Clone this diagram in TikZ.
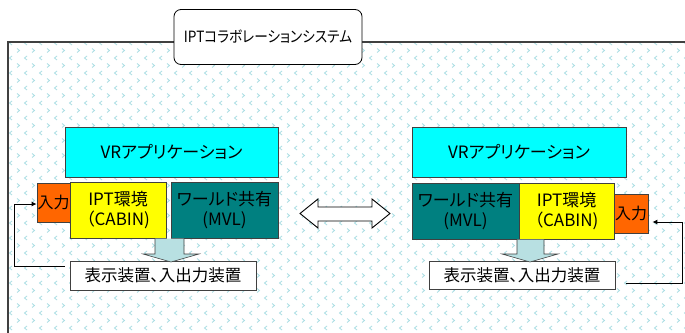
\documentclass[tikz,border=0pt]{standalone}
\usepackage{fontspec}
\newfontfamily\jp[RawFeature=+palt]{Noto Sans CJK JP}
\usetikzlibrary{patterns,arrows.meta}
\pgfdeclarepatternformonly{chev}{\pgfqpoint{-1pt}{-1pt}}{\pgfqpoint{16pt}{16pt}}{\pgfqpoint{15pt}{15pt}}{%
  \pgfsetlinewidth{0.8pt}%
  \pgfpathmoveto{\pgfqpoint{2pt}{13.5pt}}\pgfpathlineto{\pgfqpoint{4.5pt}{11.5pt}}\pgfpathlineto{\pgfqpoint{2pt}{9.5pt}}\pgfusepath{stroke}%
  \pgfpathmoveto{\pgfqpoint{12pt}{6pt}}\pgfpathlineto{\pgfqpoint{9.5pt}{4pt}}\pgfpathlineto{\pgfqpoint{12pt}{2pt}}\pgfusepath{stroke}%
}
\definecolor{patc}{RGB}{170,222,228}
\definecolor{vrc}{RGB}{0,255,255}
\definecolor{ylw}{RGB}{255,255,0}
\definecolor{tealc}{RGB}{0,128,128}
\definecolor{orng}{RGB}{255,102,0}
\definecolor{arrc}{RGB}{184,224,226}
\definecolor{edge}{RGB}{64,64,64}
\tikzset{
  box/.style={draw=edge, line width=0.8pt, inner sep=0pt, font=\jp\fontsize{17}{20}\selectfont, align=center},
  fb/.style={draw=black, line width=0.9pt, -{Latex[length=5pt,width=5pt]}},
}
\begin{document}
\begin{tikzpicture}[x=1pt,y=-1pt]
\useasboundingbox (0,0) rectangle (685,332);
% outer frame
\fill[white] (8,42) rectangle (690,340);
\fill[pattern=chev, pattern color=patc] (8,42) rectangle (690,340);
\draw[edge, line width=1.2pt] (8,340) -- (8,42) -- (690,42);
% title
\node[draw=black, line width=0.8pt, fill=white, rounded corners=7pt, minimum width=188pt, minimum height=55pt, inner sep=0pt, font=\jp\fontsize{15.5}{18}\selectfont] (title) at (268,37) {\scalebox{0.88}[1]{IPTコラボレーションシステム}};

% left group
\node[box, fill=vrc, minimum width=213pt, minimum height=50pt] (vrL) at (171.5,152) {VRアプリケーション};
\node[box, fill=orng, minimum width=33pt, minimum height=39pt, font=\jp\fontsize{16}{18}\selectfont] (inL) at (53.5,202.5) {入力};
\node[box, fill=ylw, minimum width=96pt, minimum height=56pt] (iptL) at (118,210) {IPT環境\\（CABIN)};
\node[box, fill=tealc, minimum width=107pt, minimum height=56pt] (mvlL) at (224.5,210) {ワールド共有\\(MVL)};
\node[box, fill=white, minimum width=186pt, minimum height=29pt, font=\jp\fontsize{16.5}{18}\selectfont] (dispL) at (163,275.5) {表示装置、入出力装置};
\draw[fill=arrc, draw=edge, line width=0.6pt] (155,238.5) -- (155,254) -- (143,254) -- (171,262) -- (199,254) -- (184,254) -- (184,238.5);

% right group
\node[box, fill=vrc, minimum width=214pt, minimum height=50pt] (vrR) at (519,152) {VRアプリケーション};
\node[box, fill=tealc, minimum width=107pt, minimum height=56pt] (mvlR) at (465.5,211) {ワールド共有\\(MVL)};
\node[box, fill=ylw, minimum width=95pt, minimum height=56pt] (iptR) at (566.5,211) {IPT環境\\（CABIN)};
\node[box, fill=orng, minimum width=34pt, minimum height=39pt, font=\jp\fontsize{16}{18}\selectfont] (inR) at (631,213.5) {入力};
\node[box, fill=white, minimum width=186pt, minimum height=28pt, font=\jp\fontsize{16.5}{18}\selectfont] (dispR) at (522,275) {表示装置、入出力装置};
\draw[fill=arrc, draw=edge, line width=0.6pt] (517,239.5) -- (517,254) -- (502,254) -- (530,262) -- (558,254) -- (544,254) -- (544,239.5);

% double arrow
\draw[fill=white, draw=black, line width=0.9pt] (300,213.5) -- (318,199) -- (318,207) -- (372,207) -- (372,199) -- (390,213.5) -- (372,228) -- (372,221) -- (318,221) -- (318,228) -- cycle;

% feedback connectors
\coordinate (fL1) at (14,266);
\coordinate (fL2) at (14,204);
\draw[fb] ([xshift=-5pt]dispL.west |- 0,266) -- (fL1) -- (fL2) -- (inL.west |- fL2);
\coordinate (fR1) at (682,283);
\coordinate (fR2) at (682,222);
\draw[fb] ([xshift=11pt]dispR.east |- 0,283) -- (fR1) -- (fR2) -- ([xshift=4pt]inR.east |- fR2);
\end{tikzpicture}
\end{document}
